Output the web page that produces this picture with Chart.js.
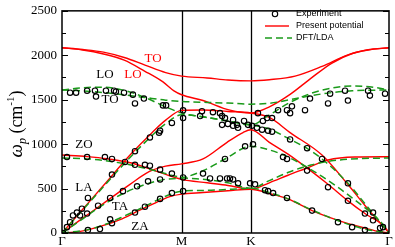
<!DOCTYPE html>
<html>
<head>
<meta charset="utf-8">
<script src="https://cdn.jsdelivr.net/npm/chart.js@4.4.1/dist/chart.umd.min.js"></script>
<style>
  html, body { margin: 0; padding: 0; background: #fff; }
  #wrap { width: 395px; height: 247px; }
</style>
</head>
<body>
<div id="wrap"><canvas id="chart" width="395" height="247"></canvas></div>
<script>
// path coordinate: Γ -> M -> K -> Γ (units of 2π/a)
const qM = 0.577, qK = 0.911, qEnd = 1.577;
const pathTicks = [0, qM, qK, qEnd];
const pathLabels = ['Γ', 'M', 'K', 'Γ'];
const yTicks = [0, 500, 1000, 1500, 2000, 2500];

// present potential (red)
const redZA = [[0,0],[0.06,8],[0.12,33],[0.2,85],[0.28,150],[0.36,240],[0.44,329],[0.52,410],[0.577,438],[0.68,455],[0.8,475],[0.911,493],[1.0,445],[1.09,384],[1.206,252],[1.331,143],[1.461,55],[1.52,20],[1.577,0]];
const redZO = [[0,877],[0.12,860],[0.22,835],[0.33,790],[0.45,700],[0.577,603],[0.7,565],[0.8,535],[0.911,495],[1.0,565],[1.09,650],[1.172,723],[1.283,822],[1.413,855],[1.577,858]];
const redTA = [[0,0],[0.1,167],[0.2,334],[0.328,548],[0.42,690],[0.5,752],[0.577,778],[0.68,833],[0.796,1020],[0.873,1130],[0.911,1162],[1.0,1020],[1.09,888],[1.186,724],[1.283,548],[1.379,362],[1.461,219],[1.558,66],[1.577,0]];
const redLA = [[0,0],[0.1,267],[0.2,534],[0.328,877],[0.434,1129],[0.5,1270],[0.577,1380],[0.68,1385],[0.8,1368],[0.911,1350],[1.0,1300],[1.1,1130],[1.254,877],[1.379,545],[1.461,310],[1.577,0]];
const redLO = [[0,2085],[0.1,2060],[0.2,2015],[0.3,1945],[0.4,1820],[0.487,1700],[0.54,1600],[0.577,1556],[0.68,1491],[0.81,1382],[0.911,1350],[1.0,1420],[1.1,1560],[1.2,1740],[1.3,1910],[1.4,2020],[1.5,2070],[1.577,2085]];
const redTO = [[0,2085],[0.1,2065],[0.2,2035],[0.3,1975],[0.4,1890],[0.5,1805],[0.577,1765],[0.7,1745],[0.8,1722],[0.911,1712],[1.0,1725],[1.124,1765],[1.254,1875],[1.379,2005],[1.476,2060],[1.577,2085]];

// DFT/LDA (green dashed)
const grZA = [[0,0],[0.12,35],[0.2,90],[0.3,190],[0.4,300],[0.5,415],[0.577,471],[0.7,480],[0.8,490],[0.911,504],[1.0,455],[1.1,375],[1.2,265],[1.33,140],[1.46,45],[1.577,0]];
const grZO = [[0,844],[0.15,830],[0.3,780],[0.45,700],[0.577,625],[0.7,600],[0.8,565],[0.911,504],[1.0,590],[1.1,690],[1.2,765],[1.3,812],[1.45,838],[1.577,844]];
const grTA = [[0,0],[0.1,160],[0.2,320],[0.3,450],[0.4,545],[0.5,605],[0.577,620],[0.68,700],[0.786,833],[0.911,975],[1.0,935],[1.09,855],[1.254,636],[1.399,395],[1.543,110],[1.577,0]];
const grLA = [[0,0],[0.1,260],[0.2,520],[0.3,780],[0.4,1020],[0.5,1230],[0.577,1330],[0.7,1300],[0.8,1260],[0.911,1217],[1.0,1170],[1.1,1053],[1.18,954],[1.254,833],[1.379,560],[1.461,330],[1.577,0]];
const grLO = [[0,1610],[0.1,1635],[0.2,1640],[0.3,1605],[0.4,1525],[0.5,1420],[0.577,1349],[0.7,1300],[0.8,1260],[0.911,1217],[1.0,1330],[1.1,1470],[1.2,1570],[1.3,1630],[1.4,1655],[1.5,1640],[1.577,1610]];
const grTO = [[0,1610],[0.1,1600],[0.2,1580],[0.3,1555],[0.4,1525],[0.5,1495],[0.577,1480],[0.7,1470],[0.8,1462],[0.911,1450],[1.0,1460],[1.1,1500],[1.2,1545],[1.3,1580],[1.4,1600],[1.577,1610]];

// experiment (open circles)
const expQ = [0.039,0.068,0.121,0.159,0.164,0.212,0.251,0.260,0.299,0.342,0.352,0.395,0.487,0.502,0.584,0.584,0.675,0.666,0.728,0.762,0.772,0.786,0.825,0.844,0.849,0.80,0.878,0.897,0.916,0.940,0.945,0.969,0.989,1.013,1.042,1.085,1.100,1.109,1.172,1.196,1.283,1.293,1.365,1.379,1.476,1.485,1.558,
  0.965,0.994,1.013,1.100,1.182,1.254,1.066,1.085,1.182,1.283,1.379,1.379,1.461,1.500,1.500,1.534,1.548,0.931,0.979,0.994,1.018,1.085,1.206,1.331,1.399,1.461,
  0.530,0.473,0.468,0.424,0.352,0.304,0.352,0.400,0.424,0.473,0.530,0.584,0.680,0.714,0.762,0.796,0.810,0.825,0.849,0.907,0.786,0.883,0.921,0.294,0.362,0.415,0.473,0.584,0.530,0.473,0.400,0.352,0.772,0.825,
  0.024,0.121,0.207,0.241,0.241,0.005,0.024,0.039,0.053,0.072,0.087,0.096,0.121,0.125,0.174,0.232,0.232,0.241,0.125,0.183];
const expW = [1579,1579,1601,1601,1535,1601,1601,1590,1579,1557,1458,1513,1436,1436,1381,1294,1371,1316,1360,1349,1316,1294,1272,1217,1184,1228,1261,1217,1206,1184,1349,1261,1294,1294,1382,1382,1349,1425,1382,1513,1458,1568,1601,1491,1601,1546,1568,
  1162,1151,1140,1053,954,833,855,833,702,515,559,362,219,230,143,55,66,548,482,471,450,395,252,121,66,33,
  1239,1151,1129,1075,921,800,768,768,757,713,669,625,669,614,614,614,614,603,559,559,833,976,998,471,526,581,603,471,450,384,296,230,1217,1206,
  855,855,855,833,658,0,66,121,197,230,197,274,219,395,307,395,154,110,33,44];

const pairs = a => a.map(p => ({ x: p[0], y: p[1] }));
const RED = '#ff0000', GREEN = '#1a9a1a';

function redSet(d) {
  return { data: pairs(d), showLine: true, borderColor: RED, borderWidth: 1.4, pointRadius: 0, cubicInterpolationMode: 'monotone', order: 2 };
}
function greenSet(d) {
  return { data: pairs(d), showLine: true, borderColor: GREEN, borderWidth: 1.5, borderDash: [7, 4], pointRadius: 0, cubicInterpolationMode: 'monotone', order: 1 };
}

const datasets = [
  ...[grZA, grZO, grTA, grLA, grLO, grTO].map(greenSet),
  ...[redZA, redZO, redTA, redLA, redLO, redTO].map(redSet),
  { data: expQ.map((q, i) => ({ x: q, y: expW[i] })), showLine: false, pointRadius: 2.7, pointBorderWidth: 1.15,
    pointBorderColor: '#000', pointBackgroundColor: 'rgba(0,0,0,0)', order: 0 }
];

const SERIF = '"Liberation Serif", "Times New Roman", serif';
const SANS = '"Liberation Sans", Arial, sans-serif';

const decor = {
  id: 'decor',
  beforeDatasetsDraw(chart) {
    const { ctx, chartArea: a, scales: { x } } = chart;
    ctx.save();
    ctx.strokeStyle = '#000';
    ctx.lineWidth = 1.3;
    [qM, qK].forEach(q => {
      const px = Math.round(x.getPixelForValue(q)) + 0.5;
      ctx.beginPath(); ctx.moveTo(px, a.top); ctx.lineTo(px, a.bottom); ctx.stroke();
    });
    ctx.restore();
  },
  afterDraw(chart) {
    const { ctx, chartArea: a, scales: { y } } = chart;
    ctx.save();
    ctx.strokeStyle = '#000';
    ctx.lineWidth = 1.5;
    ctx.strokeRect(a.left, a.top, a.right - a.left, a.bottom - a.top);
    // inward ticks, left and right
    ctx.lineWidth = 1.2;
    for (let v = 0; v <= 2500; v += 250) {
      const py = Math.round(y.getPixelForValue(v)) + 0.5;
      const len = v % 500 === 0 ? 6 : 4;
      ctx.beginPath();
      ctx.moveTo(a.left, py); ctx.lineTo(a.left + len, py);
      ctx.moveTo(a.right, py); ctx.lineTo(a.right - len, py);
      ctx.stroke();
    }

    // branch labels
    ctx.textAlign = 'center';
    ctx.textBaseline = 'middle';
    ctx.font = '13px ' + SERIF;
    const labels = [
      ['TO', 153, 59, RED], ['LO', 133, 75, RED],
      ['LO', 105, 75, '#000'], ['TO', 110, 100, '#000'], ['ZO', 84, 145, '#000'],
      ['LA', 84, 188, '#000'], ['TA', 120, 207, '#000'], ['ZA', 140, 227, '#000']
    ];
    labels.forEach(([t, lx, ly, c]) => { ctx.fillStyle = c; ctx.fillText(t, lx, ly); });

    // legend
    ctx.font = '9px ' + SANS;
    ctx.textAlign = 'left';
    ctx.fillStyle = '#000';
    ctx.lineWidth = 1.1;
    ctx.beginPath(); ctx.arc(275, 14, 2.7, 0, Math.PI * 2); ctx.stroke();
    ctx.fillText('Experiment', 296, 14);
    ctx.strokeStyle = RED; ctx.lineWidth = 1.4;
    ctx.beginPath(); ctx.moveTo(265, 26); ctx.lineTo(289, 26); ctx.stroke();
    ctx.fillText('Present potential', 296, 26);
    ctx.strokeStyle = GREEN; ctx.lineWidth = 1.5; ctx.setLineDash([7, 4]);
    ctx.beginPath(); ctx.moveTo(265, 38); ctx.lineTo(292, 38); ctx.stroke();
    ctx.setLineDash([]);
    ctx.fillText('DFT/LDA', 296, 38);

    // y-axis title: ω_p (cm^-1), rotated
    ctx.translate(22, 124);
    ctx.rotate(-Math.PI / 2);
    ctx.textBaseline = 'alphabetic';
    ctx.fillStyle = '#000';
    const parts = [
      ['ω', 'italic 19px ' + SERIF, 0],
      ['p', 'italic 12px ' + SERIF, 4],
      [' (cm', '18px ' + SERIF, 0],
      ['-1', '11px ' + SERIF, -8],
      [')', '18px ' + SERIF, 0]
    ];
    let w = 0;
    parts.forEach(([t, f]) => { ctx.font = f; w += ctx.measureText(t).width; });
    let cx = -w / 2;
    parts.forEach(([t, f, dy]) => { ctx.font = f; ctx.fillText(t, cx, dy); cx += ctx.measureText(t).width; });
    ctx.restore();
  }
};

new Chart(document.getElementById('chart'), {
  type: 'scatter',
  data: { datasets },
  options: {
    responsive: false,
    animation: false,
    devicePixelRatio: 1,
    layout: { padding: { top: 6, right: 6, left: 0, bottom: 0 } },
    plugins: { legend: { display: false }, tooltip: { enabled: false } },
    scales: {
      x: {
        type: 'linear', min: 0, max: qEnd,
        afterBuildTicks: s => { s.ticks = pathTicks.map(v => ({ value: v })); },
        afterFit: s => { s.height = 14; },
        grid: { display: false, drawTicks: false },
        border: { display: false },
        ticks: {
          autoSkip: false, maxRotation: 0, padding: 1, color: '#000',
          font: { family: SERIF, size: 13 },
          callback: (v, i) => pathLabels[i]
        }
      },
      y: {
        min: 0, max: 2500,
        afterBuildTicks: s => { s.ticks = yTicks.map(v => ({ value: v })); },
        afterFit: s => { s.width = 62; },
        grid: { display: false, drawTicks: false },
        border: { display: false },
        ticks: { padding: 5, color: '#000', font: { family: SERIF, size: 13, lineHeight: 0.9 }, callback: v => String(v) }
      }
    }
  },
  plugins: [decor]
});
</script>
</body>
</html>
